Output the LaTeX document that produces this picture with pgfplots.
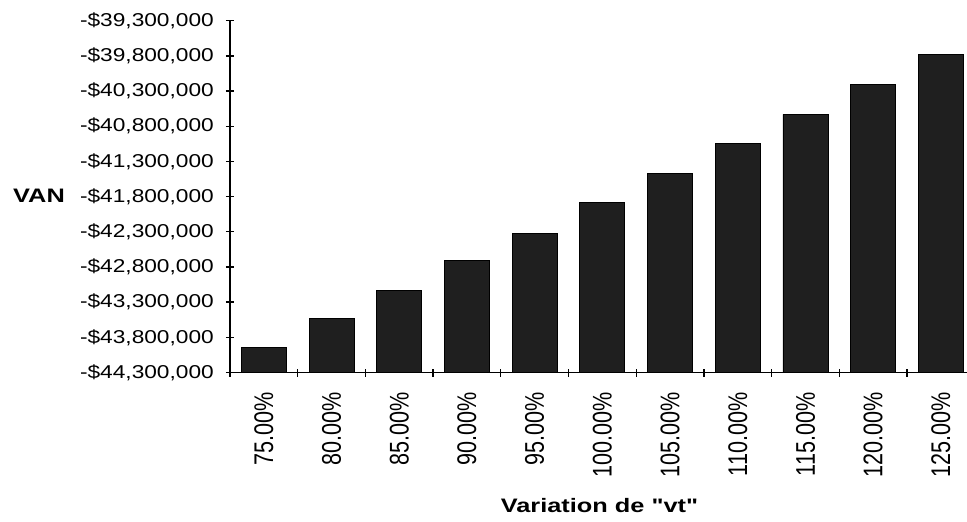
\documentclass[border=0pt]{standalone}
\usepackage{fontspec}
\setmainfont{Liberation Sans}
\newfontfamily\ytickfont[FakeStretch=1.22]{Liberation Sans}
\newfontfamily\xtickfont[FakeStretch=0.8]{Liberation Sans}
\newfontfamily\labfont[FakeStretch=1.3]{Liberation Sans}
\usepackage{pgfplots}
\pgfplotsset{compat=1.18}
\usepackage{pgfplotstable}
\pgfplotstableread{
pos value
0.5  -43940000
1.5  -43530000
2.5  -43130000
3.5  -42710000
4.5  -42320000
5.5  -41880000
6.5  -41470000
7.5  -41050000
8.5  -40630000
9.5  -40200000
10.5 -39780000
}\vandata
\begin{document}
\begin{tikzpicture}
\begin{axis}[
  scale only axis,
  width=737pt, height=351.8pt,
  axis lines*=left,
  axis line style={line width=1.6pt},
  xmin=0, xmax=10.886,
  ymin=0, ymax=5,
  y filter/.expression={(y+44300000)/1000000},
  ybar, bar width=0.665,
  ytick={0,0.5,1,1.5,2,2.5,3,3.5,4,4.5,5},
  yticklabels={{-\$44,300,000},{-\$43,800,000},{-\$43,300,000},{-\$42,800,000},{-\$42,300,000},{-\$41,800,000},{-\$41,300,000},{-\$40,800,000},{-\$40,300,000},{-\$39,800,000},{-\$39,300,000}},
  yticklabel style={font=\ytickfont\fontsize{18.6}{20}\selectfont, anchor=east, inner sep=0pt},
  yticklabel shift=12pt,
  xtick={0,1,2,3,4,5,6,7,8,9,10},
  xticklabels={},
  extra x ticks={0.5,1.5,2.5,3.5,4.5,5.5,6.5,7.5,8.5,9.5,10.5},
  extra x tick labels={75.00\%,80.00\%,85.00\%,90.00\%,95.00\%,100.00\%,105.00\%,110.00\%,115.00\%,120.00\%,125.00\%},
  extra x tick style={major tick length=0pt, xticklabel style={font=\xtickfont\fontsize{27}{29}\selectfont, rotate=90, anchor=east, inner sep=0pt}, xticklabel shift=20pt},
  tick align=center,
  major tick length=8pt,
  tick style={line width=1.3pt, black},
  xlabel={\labfont\bfseries Variation de "vt"},
  ylabel={\labfont\bfseries VAN},
  every axis x label/.style={at={(axis description cs:0.5014,0)}, anchor=center, yshift=-133.5pt, font=\fontsize{19.5}{21}\selectfont},
  every axis y label/.style={at={(axis description cs:0,0.501)}, anchor=center, xshift=-191pt, font=\fontsize{19.5}{21}\selectfont},
  clip=false,
]
\addplot[draw=black, line width=0.8pt, fill=black!88] table[x=pos, y=value] {\vandata};
\end{axis}
\pgfresetboundingbox
\path (-230pt,-149.5pt) rectangle (737pt,372.5pt);
\end{tikzpicture}
\end{document}
